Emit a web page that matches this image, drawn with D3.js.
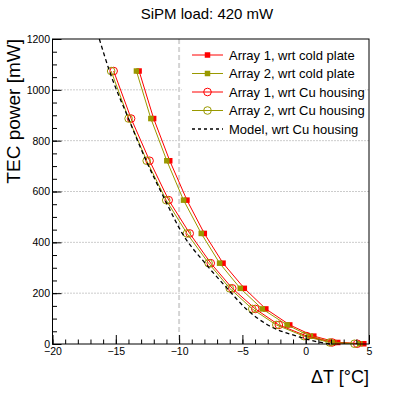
<!DOCTYPE html>
<html lang="en">
<head>
<meta charset="UTF-8">
<script src="https://d3js.org/d3.v7.min.js"></script>
<title>SiPM load</title>
<style>
  body { margin: 0; background: #fff; }
  svg { display: block; font-family: 'Liberation Sans', Arial, sans-serif; }
</style>
</head>
<body>
<svg id="canvas"></svg>
<script>
// TEC power values (same for every series), mW
let power = [1074, 887, 721, 566, 435, 318, 219, 138, 75, 31, 6, 1]

// delta T for each series, degC
let dtArray1Cold = [-13.16, -12.01, -10.74, -9.38, -8.01, -6.53, -4.85, -3.15, -1.26, 0.64, 2.53, 4.59]
let dtArray2Cold = [-13.37, -12.23, -10.97, -9.65, -8.25, -6.80, -5.17, -3.43, -1.47, 0.37, 2.22, 4.27]
let dtArray1Cu = [-15.17, -13.79, -12.33, -10.82, -9.16, -7.50, -5.80, -3.98, -2.12, 0.09, 2.09, 4.07]
let dtArray2Cu = [-15.37, -13.99, -12.56, -11.02, -9.38, -7.67, -6.00, -4.22, -2.32, -0.14, 1.90, 3.85]

// model curve, wrt Cu housing
let modelDT = [-16.3, -15.5, -14.0, -12.6, -11.1, -9.75, -7.95, -6.2, -4.7, -3.0, -0.7, 1.0, 2.0]
let modelP = [1200, 1074, 887, 721, 566, 435, 318, 219, 138, 75, 31, 8, 0]

let legendLabels = ['Array 1, wrt cold plate', 'Array 2, wrt cold plate', 'Array 1, wrt Cu housing', 'Array 2, wrt Cu housing', 'Model, wrt Cu housing']
let xMajor = [-20, -15, -10, -5, 0, 5]
let yMajor = [0, 200, 400, 600, 800, 1000, 1200]

let width = 411
let height = 396
let frameL = 52.5, frameR = 369, frameT = 39, frameB = 344

let red = '#ff0000'
let olive = '#999900'

let svg = d3.select('svg').attr('width', width).attr('height', height)

let xScale = d3.scaleLinear().domain([-20, 5]).range([frameL, frameR])
let yScale = d3.scaleLinear().domain([0, 1200]).range([frameB, frameT])

let series = [
    {dt: dtArray1Cold, color: red, marker: 'square'},
    {dt: dtArray2Cold, color: olive, marker: 'square'},
    {dt: dtArray1Cu, color: red, marker: 'circle'},
    {dt: dtArray2Cu, color: olive, marker: 'circle'}
]

// title
svg.append('text')
    .attr('x', 207).attr('y', 19)
    .attr('text-anchor', 'middle')
    .style('font-size', '15px')
    .text('SiPM load: 420 mW')

// grid
svg.append('g')
    .selectAll('line')
    .data(yMajor.filter(v => v > 0 && v < 1200))
    .enter()
    .append('line')
    .attr('x1', frameL).attr('x2', frameR)
    .attr('y1', d => yScale(d)).attr('y2', d => yScale(d))
    .attr('stroke', '#999')
    .attr('stroke-width', 1)
    .attr('stroke-dasharray', '1,2')

// legend background
svg.append('rect')
    .attr('x', 182).attr('y', 41)
    .attr('width', 183).attr('height', 98)
    .attr('fill', '#fff')

// vertical line at -10
svg.append('line')
    .attr('x1', xScale(-10)).attr('x2', xScale(-10))
    .attr('y1', frameT).attr('y2', frameB)
    .attr('stroke', '#d4d4d4')
    .attr('stroke-width', 2)
    .attr('stroke-dasharray', '5,3')

let plot = svg.append('g')

let line = d3.line()
    .x(d => xScale(d[0]))
    .y(d => yScale(d[1]))

let drawMarker = (g, kind, color, x, y) => {
    if (kind === 'square') {
        g.append('rect')
            .attr('x', x - 2.75).attr('y', y - 2.75)
            .attr('width', 5.5).attr('height', 5.5)
            .attr('fill', color)
    } else {
        g.append('circle')
            .attr('cx', x).attr('cy', y).attr('r', 3.8)
            .attr('fill', 'none')
            .attr('stroke', color)
            .attr('stroke-width', 1)
    }
}

series.forEach(s => {
    let pts = s.dt.map((t, i) => [t, power[i]])
    plot.append('path')
        .attr('d', line(pts))
        .attr('fill', 'none')
        .attr('stroke', s.color)
        .attr('stroke-width', 1)
    pts.forEach(p => drawMarker(plot, s.marker, s.color, xScale(p[0]), yScale(p[1])))
})

// model curve
plot.append('path')
    .attr('d', d3.line()
        .x(d => xScale(d[0]))
        .y(d => yScale(d[1]))
        .curve(d3.curveMonotoneX)(modelDT.map((t, i) => [t, modelP[i]])))
    .attr('fill', 'none')
    .attr('stroke', '#000')
    .attr('stroke-width', 1.3)
    .attr('stroke-dasharray', '4,3')

// frame
svg.append('rect')
    .attr('x', frameL).attr('y', frameT)
    .attr('width', frameR - frameL).attr('height', frameB - frameT)
    .attr('fill', 'none')
    .attr('stroke', '#000')
    .attr('stroke-width', 1)

// axes
let xAxis = d3.axisBottom(xScale).tickValues(xMajor).tickSize(-9).tickPadding(4).tickFormat(d3.format('d'))
let xMinor = d3.axisBottom(xScale).tickValues(d3.range(-20, 5.1, 1)).tickSize(-4.5).tickFormat('')
let yAxis = d3.axisLeft(yScale).tickValues(yMajor).tickSize(-9).tickPadding(2.5).tickFormat(d3.format('d'))
let yMinor = d3.axisLeft(yScale).tickValues(d3.range(0, 1201, 50)).tickSize(-4.5).tickFormat('')

let addAxis = (axis, transform) => {
    let g = svg.append('g').attr('transform', transform).call(axis)
    g.select('.domain').remove()
    g.selectAll('text').style('font-size', '10.5px').attr('fill', '#000').style('font-family', "'Liberation Sans', Arial, sans-serif")
    g.selectAll('line').attr('stroke', '#000')
    return g
}
addAxis(xMinor, 'translate(0,' + frameB + ')')
addAxis(xAxis, 'translate(0,' + frameB + ')')
addAxis(yMinor, 'translate(' + frameL + ',0)')
addAxis(yAxis, 'translate(' + frameL + ',0)')

// axis titles
svg.append('text')
    .attr('transform', 'translate(20,' + frameT + ') rotate(-90)')
    .attr('text-anchor', 'end')
    .style('font-size', '19px')
    .text('TEC power [mW]')

svg.append('text')
    .attr('x', frameR).attr('y', 383)
    .attr('text-anchor', 'end')
    .style('font-size', '18px')
    .text('ΔT [°C]')

// legend
let legend = svg.append('g')
let rowY = [55, 73.5, 92, 110.5, 129]
let legendKinds = ['square', 'square', 'circle', 'circle', 'model']
let legendColors = [red, olive, red, olive, '#000']

legendLabels.forEach((label, i) => {
    let y = rowY[i]
    let l = legend.append('line')
        .attr('x1', 192).attr('x2', 223)
        .attr('y1', y).attr('y2', y)
        .attr('stroke', legendColors[i])
        .attr('stroke-width', 1)
    if (legendKinds[i] === 'model') {
        l.attr('stroke-dasharray', '3,3').attr('stroke-width', 1.3)
    } else {
        drawMarker(legend, legendKinds[i], legendColors[i], 207.5, y)
    }
    legend.append('text')
        .attr('x', 229).attr('y', y)
        .attr('dy', '0.35em')
        .style('font-size', '13px')
        .text(label)
})
</script>
</body>
</html>
